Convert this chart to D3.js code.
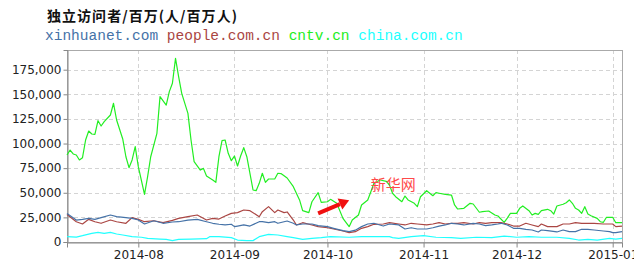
<!DOCTYPE html>
<html>
<head>
<meta charset="utf-8">
<script src="https://cdn.jsdelivr.net/npm/d3@7"></script>
<style>
  body { margin: 0; background: #fff; }
  svg { display: block; }
</style>
</head>
<body>
<svg id="chart" width="634" height="266"></svg>
<script>
// unique visitors per site
var seriesNames = ["xinhuanet.com", "people.com.cn", "cntv.cn", "china.com.cn"];
var seriesColors = ["#4572a7", "#aa4643", "#22ee22", "#22ffff"];
var yTicks = [0, 25000, 50000, 75000, 100000, 125000, 150000, 175000];
var monthTicks = ["2014-08-01", "2014-09-01", "2014-10-01", "2014-11-01", "2014-12-01", "2015-01-01"];

var xinhuaData = [
  ["2014-07-09",29000],["2014-07-12",22300],["2014-07-14",23000],["2014-07-16",24000],["2014-07-18",23000],
  ["2014-07-20",24700],["2014-07-23",27400],["2014-07-25",25700],["2014-07-28",24700],["2014-07-30",24000],
  ["2014-08-01",22300],["2014-08-03",18300],["2014-08-06",21600],["2014-08-09",19000],["2014-08-12",20300],
  ["2014-08-14",20600],["2014-08-17",22300],["2014-08-20",23000],["2014-08-23",20600],["2014-08-25",19000],
  ["2014-08-27",18000],["2014-08-29",17300],["2014-08-31",18000],["2014-09-01",15600],["2014-09-02",16200],
  ["2014-09-04",17300],["2014-09-06",16200],["2014-09-09",20600],["2014-09-10",20600],["2014-09-12",19600],
  ["2014-09-14",20600],["2014-09-15",19000],["2014-09-17",20600],["2014-09-18",21300],["2014-09-20",19000],
  ["2014-09-21",17300],["2014-09-23",18300],["2014-09-26",18300],["2014-09-28",16600],["2014-10-01",15600],
  ["2014-10-03",13900],["2014-10-06",11500],["2014-10-08",10500],["2014-10-10",12000],["2014-10-12",15600],
  ["2014-10-14",18300],["2014-10-16",19000],["2014-10-19",16200],["2014-10-21",18300],["2014-10-24",17300],
  ["2014-10-26",13200],["2014-10-28",14500],["2014-10-30",13200],["2014-11-02",13200],["2014-11-04",14500],
  ["2014-11-06",16200],["2014-11-08",17300],["2014-11-10",19000],["2014-11-12",18300],["2014-11-14",17300],
  ["2014-11-17",19000],["2014-11-19",18300],["2014-11-21",16600],["2014-11-23",17300],["2014-11-25",18300],
  ["2014-11-26",19000],["2014-11-28",17300],["2014-11-30",13900],["2014-12-02",13900],["2014-12-04",12900],
  ["2014-12-06",12200],["2014-12-08",10200],["2014-12-09",12200],["2014-12-11",11500],["2014-12-14",10200],
  ["2014-12-16",12200],["2014-12-18",10500],["2014-12-20",10500],["2014-12-22",12900],["2014-12-24",12900],
  ["2014-12-26",12200],["2014-12-29",11200],["2014-12-31",10500],["2015-01-01",9500],["2015-01-02",9500],
  ["2015-01-04",10500]
];

var peopleData = [
  ["2014-07-09",28000],["2014-07-12",20600],["2014-07-14",18300],["2014-07-16",23000],["2014-07-18",20600],
  ["2014-07-20",19000],["2014-07-23",22300],["2014-07-25",20600],["2014-07-28",19000],["2014-07-30",24700],
  ["2014-08-01",23000],["2014-08-03",20600],["2014-08-06",21600],["2014-08-09",19600],["2014-08-12",22000],
  ["2014-08-14",24000],["2014-08-17",25700],["2014-08-20",27400],["2014-08-23",22300],["2014-08-25",24000],
  ["2014-08-27",23300],["2014-08-29",26400],["2014-08-31",29100],["2014-09-02",29800],["2014-09-04",32500],
  ["2014-09-06",31800],["2014-09-09",25700],["2014-09-10",30800],["2014-09-12",35900],["2014-09-14",29800],
  ["2014-09-15",32500],["2014-09-17",29800],["2014-09-18",30500],["2014-09-20",22300],["2014-09-21",17300],
  ["2014-09-23",19600],["2014-09-26",17300],["2014-09-28",15600],["2014-10-01",14500],["2014-10-03",13200],
  ["2014-10-06",11200],["2014-10-08",9500],["2014-10-10",10500],["2014-10-12",13900],["2014-10-14",15600],
  ["2014-10-16",18000],["2014-10-19",18300],["2014-10-21",19600],["2014-10-24",18300],["2014-10-26",17300],
  ["2014-10-28",19000],["2014-10-30",18300],["2014-11-02",17300],["2014-11-04",18300],["2014-11-06",19600],
  ["2014-11-08",18300],["2014-11-10",19000],["2014-11-12",19000],["2014-11-14",19600],["2014-11-17",18300],
  ["2014-11-19",19600],["2014-11-21",19000],["2014-11-23",19600],["2014-11-26",19600],["2014-11-28",18300],
  ["2014-11-30",16200],["2014-12-02",16200],["2014-12-04",19000],["2014-12-06",17300],["2014-12-08",15600],
  ["2014-12-09",18300],["2014-12-11",15600],["2014-12-14",15600],["2014-12-16",18300],["2014-12-18",18300],
  ["2014-12-20",19600],["2014-12-22",19000],["2014-12-24",19000],["2014-12-26",19000],["2014-12-29",18300],
  ["2015-01-01",18300],["2015-01-02",15600],["2015-01-04",16200]
];

var cntvData = [
  ["2014-07-09",88400],["2014-07-10",93400],["2014-07-11",89400],["2014-07-12",88400],["2014-07-13",83300],
  ["2014-07-14",85600],["2014-07-15",103600],["2014-07-16",112700],["2014-07-17",109700],["2014-07-18",109400],
  ["2014-07-19",123200],["2014-07-20",117800],["2014-07-21",122200],["2014-07-23",129000],["2014-07-24",140900],
  ["2014-07-25",123900],["2014-07-27",104300],["2014-07-28",86600],["2014-07-29",75500],["2014-07-30",83300],
  ["2014-07-31",96800],["2014-08-01",76500],["2014-08-03",48400],["2014-08-04",66300],["2014-08-05",86600],
  ["2014-08-07",110400],["2014-08-08",147600],["2014-08-10",139100],["2014-08-11",152700],["2014-08-12",161200],
  ["2014-08-13",186500],["2014-08-14",167900],["2014-08-15",151000],["2014-08-17",130700],["2014-08-18",103600],
  ["2014-08-19",81600],["2014-08-21",73100],["2014-08-22",74800],["2014-08-23",67000],["2014-08-25",63000],
  ["2014-08-26",60600],["2014-08-27",86600],["2014-08-28",102900],["2014-08-29",103600],["2014-08-30",90100],
  ["2014-08-31",82600],["2014-09-01",87300],["2014-09-02",77200],["2014-09-03",87300],["2014-09-04",95800],
  ["2014-09-05",86600],["2014-09-07",52800],["2014-09-08",52100],["2014-09-09",59600],["2014-09-10",69800],
  ["2014-09-11",60600],["2014-09-12",64000],["2014-09-14",64000],["2014-09-15",69800],["2014-09-16",69500],
  ["2014-09-18",65000],["2014-09-20",56200],["2014-09-22",42700],["2014-09-23",31800],["2014-09-25",29800],
  ["2014-09-26",40900],["2014-09-28",50100],["2014-09-29",40300],["2014-10-01",40900],["2014-10-02",43300],
  ["2014-10-04",39300],["2014-10-06",24000],["2014-10-08",15600],["2014-10-09",22300],["2014-10-11",27400],
  ["2014-10-12",37600],["2014-10-14",42700],["2014-10-15",51100],["2014-10-16",59600],["2014-10-18",63000],
  ["2014-10-20",61500],["2014-10-21",57900],["2014-10-22",49500],["2014-10-23",46000],["2014-10-25",40900],
  ["2014-10-26",46700],["2014-10-27",42700],["2014-10-29",39300],["2014-10-30",35900],["2014-10-31",46000],
  ["2014-11-02",52100],["2014-11-03",49500],["2014-11-04",47000],["2014-11-05",50100],["2014-11-06",49500],
  ["2014-11-08",48400],["2014-11-10",47700],["2014-11-11",37600],["2014-11-12",33500],["2014-11-14",34200],
  ["2014-11-16",39300],["2014-11-17",38600],["2014-11-19",30200],["2014-11-20",30800],["2014-11-22",31500],
  ["2014-11-24",27400],["2014-11-25",26400],["2014-11-27",20000],["2014-11-28",24300],["2014-11-29",29100],
  ["2014-12-01",29100],["2014-12-02",34200],["2014-12-03",36600],["2014-12-05",31800],["2014-12-06",27400],
  ["2014-12-07",29100],["2014-12-08",28100],["2014-12-09",31800],["2014-12-11",33200],["2014-12-12",31800],
  ["2014-12-13",28400],["2014-12-14",36600],["2014-12-16",38300],["2014-12-17",39900],["2014-12-18",42700],
  ["2014-12-19",39300],["2014-12-20",34200],["2014-12-21",32500],["2014-12-22",29100],["2014-12-23",35900],
  ["2014-12-24",28400],["2014-12-25",26700],["2014-12-27",24000],["2014-12-28",20600],["2014-12-29",20000],
  ["2014-12-30",25100],["2015-01-01",25100],["2015-01-02",19600],["2015-01-04",19600]
];

var chinaData = [
  ["2014-07-09",5400],["2014-07-12",5000],["2014-07-14",6400],["2014-07-17",8800],["2014-07-19",9800],
  ["2014-07-21",8800],["2014-07-23",9800],["2014-07-25",8100],["2014-07-27",7100],["2014-07-30",5400],
  ["2014-08-02",4800],["2014-08-04",3700],["2014-08-08",3000],["2014-08-10",2700],["2014-08-12",1400],
  ["2014-08-14",2700],["2014-08-18",3000],["2014-08-23",3400],["2014-08-24",5400],["2014-08-27",5400],
  ["2014-08-31",4400],["2014-09-02",2000],["2014-09-05",1400],["2014-09-07",1400],["2014-09-09",5400],
  ["2014-09-12",7800],["2014-09-15",7100],["2014-09-18",5400],["2014-09-20",4400],["2014-09-23",2700],
  ["2014-09-26",3700],["2014-09-29",4400],["2014-10-02",5400],["2014-10-08",4800],["2014-10-12",5400],
  ["2014-10-16",5400],["2014-10-21",5400],["2014-10-22",4400],["2014-10-24",3700],["2014-10-28",5400],
  ["2014-11-01",6400],["2014-11-05",4800],["2014-11-10",4400],["2014-11-13",3700],["2014-11-18",4800],
  ["2014-11-23",4400],["2014-11-27",6000],["2014-12-01",4800],["2014-12-05",5400],["2014-12-09",4800],
  ["2014-12-14",4800],["2014-12-18",3700],["2014-12-21",2000],["2014-12-24",2700],["2014-12-27",2000],
  ["2014-12-31",3700],["2015-01-02",3000],["2015-01-04",3700]
];

// annotation: arrow from tail to tip, label near the tip
var arrowFrom = ["2014-09-28", 29000];
var arrowTo = ["2014-10-08", 42500];
var noteLabel = ["2014-10-15", 52500, "新华网"];

var parse = d3.timeParse("%Y-%m-%d");
var allSeries = [xinhuaData, peopleData, cntvData, chinaData];

var svg = d3.select("#chart");
var plotL = 67, plotR = 622, plotT = 50, plotB = 242;

var x = d3.scaleTime()
  .domain([parse("2014-07-09"), parse("2015-01-04")])
  .range([plotL, plotR]);
var y = d3.scaleLinear()
  .domain([0, 195000])
  .range([plotB, plotT]);

// grid
svg.append("g").selectAll("line").data(yTicks.slice(1)).join("line")
  .attr("x1", plotL).attr("x2", plotR)
  .attr("y1", function(d){ return Math.round(y(d)) + 0.5; })
  .attr("y2", function(d){ return Math.round(y(d)) + 0.5; })
  .attr("stroke", "#d4d4d4").attr("stroke-dasharray", "4,3");
svg.append("g").selectAll("line").data(monthTicks).join("line")
  .attr("x1", function(d){ return Math.round(x(parse(d))) + 0.5; })
  .attr("x2", function(d){ return Math.round(x(parse(d))) + 0.5; })
  .attr("y1", plotT).attr("y2", plotB)
  .attr("stroke", "#d4d4d4").attr("stroke-dasharray", "4,3");

// frame
svg.append("rect")
  .attr("x", plotL + 0.5).attr("y", plotT + 0.5)
  .attr("width", plotR - plotL).attr("height", plotB - plotT)
  .attr("fill", "none").attr("stroke", "#aaa");

// axes
var yAxis = d3.axisLeft(y).tickValues(yTicks).tickFormat(d3.format(","))
  .tickSize(4).tickPadding(2);
var gy = svg.append("g").attr("transform", "translate(" + (plotL + 0.5) + ",0)").call(yAxis);

var xAxis = d3.axisBottom(x).tickValues(monthTicks.map(parse))
  .tickFormat(d3.timeFormat("%Y-%m")).tickSize(5).tickPadding(3);
var gx = svg.append("g").attr("transform", "translate(0," + (plotB + 0.5) + ")").call(xAxis);

[gx, gy].forEach(function(g){
  g.select(".domain").attr("stroke", "#888");
  g.selectAll(".tick line").attr("stroke", "#888");
  g.selectAll("text").attr("fill", "#222")
    .style("font-family", "'DejaVu Sans', Verdana, sans-serif").style("font-size", "12px");
});

// lines
var line = d3.line()
  .x(function(d){ return x(parse(d[0])); })
  .y(function(d){ return y(d[1]); });

var drawOrder = [3, 2, 1, 0];
drawOrder.forEach(function(i){
  svg.append("path")
    .datum(allSeries[i])
    .attr("d", line)
    .attr("fill", "none")
    .attr("stroke", seriesColors[i])
    .attr("stroke-width", 1.2)
    .attr("stroke-linejoin", "round");
});

// title + legend text
svg.append("text")
  .attr("x", 47).attr("y", 21)
  .attr("textLength", 190).attr("lengthAdjust", "spacing")
  .style("font-family", "'Noto Sans CJK SC', sans-serif")
  .style("font-size", "14px").style("font-weight", "bold")
  .attr("fill", "#111")
  .text("独立访问者/百万(人/百万人)");

var legend = svg.append("text")
  .attr("x", 45).attr("y", 40)
  .style("font-family", "'Liberation Mono', 'DejaVu Sans Mono', monospace")
  .style("font-size", "14.5px")
  .attr("xml:space", "preserve");
seriesNames.forEach(function(name, i){
  legend.append("tspan")
    .attr("fill", seriesColors[i])
    .text(name + (i < seriesNames.length - 1 ? " " : ""));
});

// arrow annotation
var ax0 = x(parse(arrowFrom[0])), ay0 = y(arrowFrom[1]);
var ax1 = x(parse(arrowTo[0])), ay1 = y(arrowTo[1]);
var ang = Math.atan2(ay1 - ay0, ax1 - ax0);
var headLen = 10, headW = 6;
var bx = ax1 - headLen * Math.cos(ang), by = ay1 - headLen * Math.sin(ang);
svg.append("line")
  .attr("x1", ax0).attr("y1", ay0).attr("x2", bx).attr("y2", by)
  .attr("stroke", "#f01010").attr("stroke-width", 4);
svg.append("path")
  .attr("d", "M" + ax1 + "," + ay1 +
    "L" + (bx + headW * Math.sin(ang)) + "," + (by - headW * Math.cos(ang)) +
    "L" + (bx - headW * Math.sin(ang)) + "," + (by + headW * Math.cos(ang)) + "Z")
  .attr("fill", "#f01010");

svg.append("text")
  .attr("x", x(parse(noteLabel[0]))).attr("y", y(noteLabel[1]))
  .style("font-family", "'Noto Sans CJK SC', sans-serif")
  .style("font-size", "15px")
  .attr("fill", "#ff4a4a")
  .text(noteLabel[2]);
</script>
</body>
</html>
